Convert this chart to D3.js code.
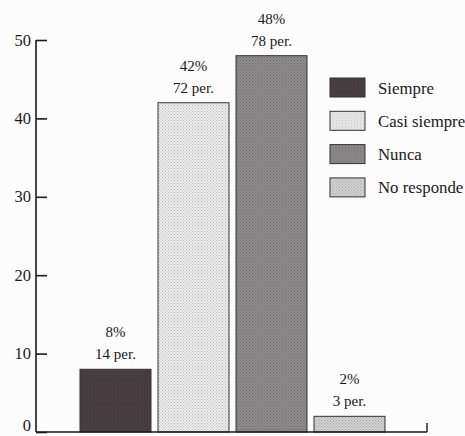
<!DOCTYPE html>
<html>
<head>
<meta charset="utf-8">
<script src="https://cdn.jsdelivr.net/npm/d3@7"></script>
<style>
  html, body { margin: 0; padding: 0; background: #fcfcfc; }
  svg { display: block; }
</style>
</head>
<body>
<svg id="chart" width="465" height="436"></svg>
<script>
const categories = ["Siempre", "Casi siempre", "Nunca", "No responde"];
const percents = [8, 42, 48, 2];
const persons = [14, 72, 78, 3];
const yTicks = [0, 10, 20, 30, 40, 50];

const FONT = "'Liberation Serif', 'Times New Roman', Times, 'DejaVu Serif', serif";
const svg = d3.select("#chart").attr("font-family", FONT);
const defs = svg.append("defs");

function dotPattern(id, bg, dot, size, r) {
  const p = defs.append("pattern").attr("id", id)
    .attr("patternUnits", "userSpaceOnUse").attr("width", size).attr("height", size);
  p.append("rect").attr("width", size).attr("height", size).attr("fill", bg);
  p.append("rect").attr("x", 0).attr("y", 0).attr("width", r).attr("height", r).attr("fill", dot);
  p.append("rect").attr("x", size / 2).attr("y", size / 2).attr("width", r).attr("height", r).attr("fill", dot);
}
dotPattern("p1", "#4a4043", "#3e3538", 3, 1);
dotPattern("p2", "#ececec", "#b8b8b8", 3, 1);
dotPattern("p3", "#8e8b8c", "#6e6a6b", 3, 1);
dotPattern("p4", "#d2d2d2", "#a8a8a8", 3, 1);
const fills = ["url(#p1)", "url(#p2)", "url(#p3)", "url(#p4)"];

const x = d3.scaleBand().domain(categories).range([76.5, 388.5])
  .paddingInner(0.09).paddingOuter(0.045);
const y = d3.scaleLinear().domain([0, 50]).range([432, 40]);

// bars
svg.selectAll("rect.bar").data(categories).join("rect")
  .attr("class", "bar")
  .attr("x", d => x(d))
  .attr("y", (d, i) => y(percents[i]))
  .attr("width", x.bandwidth())
  .attr("height", (d, i) => y(0) - y(percents[i]))
  .attr("fill", (d, i) => fills[i])
  .attr("stroke", "#333")
  .attr("stroke-width", 1);

// labels
const lbl = svg.selectAll("g.lbl").data(categories).join("g").attr("class", "lbl");
lbl.append("text")
  .attr("x", d => x(d) + x.bandwidth() / 2)
  .attr("y", (d, i) => y(percents[i]) - 32)
  .attr("text-anchor", "middle").attr("font-size", 15).attr("fill", "#1a1a1a")
  .text((d, i) => percents[i] + "%");
lbl.append("text")
  .attr("x", d => x(d) + x.bandwidth() / 2)
  .attr("y", (d, i) => y(percents[i]) - 10)
  .attr("text-anchor", "middle").attr("font-size", 15).attr("fill", "#1a1a1a")
  .text((d, i) => persons[i] + " per.");

// y axis
const yAxis = d3.axisRight(y).tickValues(yTicks).tickSize(11).tickFormat("");
const gy = svg.append("g").attr("transform", "translate(36,0)").call(yAxis);
gy.select(".domain").remove();
gy.selectAll(".tick line").attr("stroke", "#1a1a1a").attr("stroke-width", 1.6);
gy.append("line").attr("x1", 0).attr("x2", 0).attr("y1", y(50)).attr("y2", y(0))
  .attr("stroke", "#1a1a1a").attr("stroke-width", 1.6);
svg.append("g").selectAll("text").data(yTicks).join("text")
  .attr("x", 31).attr("y", d => Math.min(y(d) + 5.5, 431))
  .attr("text-anchor", "end").attr("font-size", 16.5).attr("fill", "#1a1a1a")
  .text(d => d);

// x axis
svg.append("line").attr("x1", 36).attr("x2", 427).attr("y1", y(0)).attr("y2", y(0))
  .attr("stroke", "#1a1a1a").attr("stroke-width", 1.6);
svg.append("line").attr("x1", 427).attr("x2", 427).attr("y1", y(0)).attr("y2", y(0) - 9)
  .attr("stroke", "#1a1a1a").attr("stroke-width", 1.4);

// legend
const leg = svg.append("g").selectAll("g").data(categories).join("g")
  .attr("transform", (d, i) => `translate(330,${78 + i * 33.3})`);
leg.append("rect").attr("width", 35).attr("height", 19)
  .attr("fill", (d, i) => fills[i]).attr("stroke", "#333").attr("stroke-width", 1);
leg.append("text").attr("x", 48).attr("y", 15.5).attr("font-size", 16.8).attr("fill", "#1a1a1a")
  .text(d => d);
</script>
</body>
</html>
